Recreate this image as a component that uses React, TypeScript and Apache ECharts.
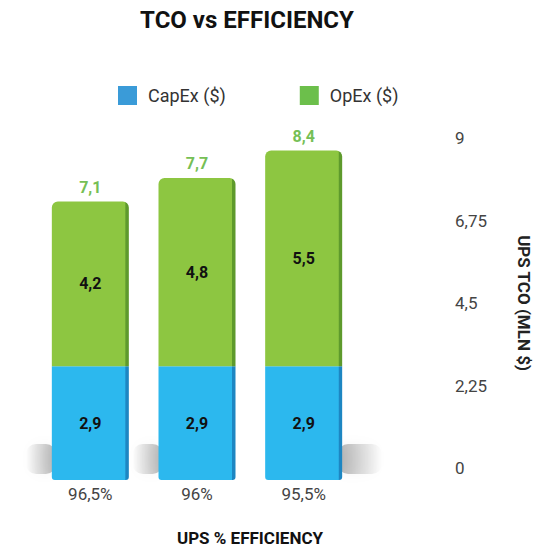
import React, { useEffect, useRef } from "react";
import * as echarts from "echarts";

const categories = ["96,5%", "96%", "95,5%"];
const capex = [2.9, 2.9, 2.9];
const opex = [4.2, 4.8, 5.5];
const totals = [7.1, 7.7, 8.4];
const tickValues = [0, 2.25, 4.5, 6.75, 9];

const fmt = (v: number) => String(v).replace(".", ",");

export default function App() {
  const ref = useRef<HTMLDivElement>(null);
  useEffect(() => {
    document.body.style.margin = "0";
    if (!ref.current) return;
    const chart = echarts.init(ref.current, null, { renderer: "svg" });
    const blueGrad = new echarts.graphic.LinearGradient(0, 0, 1, 0, [
      { offset: 0, color: "#2CB8EE" },
      { offset: 0.95, color: "#2CB8EE" },
      { offset: 0.96, color: "#1D86C2" },
      { offset: 1, color: "#1D86C2" },
    ]);
    const greenGrad = new echarts.graphic.LinearGradient(0, 0, 1, 0, [
      { offset: 0, color: "#8DC641" },
      { offset: 0.95, color: "#8DC641" },
      { offset: 0.96, color: "#5E9A2C" },
      { offset: 1, color: "#5E9A2C" },
    ]);
    chart.setOption({
      animation: false,
      backgroundColor: "#ffffff",
      title: {
        text: "TCO vs EFFICIENCY",
        left: 242,
        textAlign: "center",
        top: 3,
        textStyle: { fontFamily: "Roboto", fontWeight: "bold", fontSize: 24, color: "#111" },
      },
      legend: {
        left: 113,
        top: 81,
        itemWidth: 19,
        itemHeight: 19,
        itemGap: 74,
        icon: "rect",
        textStyle: { fontFamily: "Roboto", fontSize: 18, color: "#333", padding: [0, 0, 0, 6] },
        data: [
          { name: "CapEx ($)", itemStyle: { color: "#3A9BD8" } },
          { name: "OpEx ($)", itemStyle: { color: "#6CBF4B" } },
        ],
      },
      grid: [
        { left: 37, width: 320, top: 127, height: 353 },
        { left: 37, width: 410, top: 138, height: 330 },
      ],
      xAxis: [
        {
          type: "category",
          gridIndex: 0,
          data: categories,
          axisLine: { show: false },
          axisTick: { show: false },
          axisLabel: { margin: 5, fontFamily: "Roboto", fontSize: 17, color: "#444" },
        },
        { type: "value", gridIndex: 1, show: false, min: 0, max: 1 },
      ],
      yAxis: [
        { type: "value", gridIndex: 0, min: 0, max: 9, show: false },
        {
          type: "value",
          gridIndex: 1,
          position: "right",
          min: tickValues[0],
          max: tickValues[tickValues.length - 1],
          interval: tickValues[1] - tickValues[0],
          splitLine: { show: false },
          axisLine: { show: false },
          axisTick: { show: false },
          axisLabel: {
            margin: 8,
            fontFamily: "Roboto",
            fontSize: 17,
            color: "#444",
            formatter: (v: number) => fmt(v),
          },
          name: "UPS TCO (MLN $)",
          nameLocation: "middle",
          nameRotate: -90,
          nameGap: 68,
          nameTextStyle: { fontFamily: "Roboto", fontWeight: "bold", fontSize: 17, color: "#222" },
        },
      ],
      graphic: [
        {
          type: "text",
          x: 250,
          y: 538,
          style: {
            text: "UPS % EFFICIENCY",
            fontFamily: "Roboto",
            fontWeight: "bold",
            fontSize: 17,
            fill: "#111",
            textAlign: "center",
            textVerticalAlign: "middle",
          },
        },
      ],
      series: [
        {
          type: "custom",
          xAxisIndex: 0,
          yAxisIndex: 0,
          z: 0,
          silent: true,
          data: categories.map((_, i) => [i, 0]),
          renderItem: (params: any, api: any) => {
            const idx = api.value(0);
            const p = api.coord([idx, 0]);
            const band = api.size([1, 0])[0];
            const half = band * 0.36;
            const toRight = idx === categories.length - 1;
            const w = toRight ? 44 : 30;
            const x = toRight ? p[0] + half - 4 : p[0] - half - w + 4;
            return {
              type: "rect",
              shape: { x, y: p[1] - 36, width: w, height: 30, r: 10 },
              style: {
                fill: new echarts.graphic.LinearGradient(toRight ? 0 : 1, 0, toRight ? 1 : 0, 0, [
                  { offset: 0, color: "rgba(0,0,0,0.28)" },
                  { offset: 0.5, color: "rgba(0,0,0,0.14)" },
                  { offset: 1, color: "rgba(0,0,0,0)" },
                ]),
                shadowBlur: 12,
                shadowColor: "rgba(0,0,0,0.2)",
              },
            };
          },
        },
        {
          name: "CapEx ($)",
          type: "bar",
          stack: "tco",
          xAxisIndex: 0,
          yAxisIndex: 0,
          barWidth: 77,
          data: capex,
          itemStyle: { color: blueGrad, borderRadius: [0, 0, 3, 3] },
          label: {
            show: true,
            position: "inside",
            formatter: (p: any) => fmt(p.value),
            fontFamily: "Roboto",
            fontWeight: "bold",
            fontSize: 16,
            color: "#111",
          },
          z: 2,
        },
        {
          name: "OpEx ($)",
          type: "bar",
          stack: "tco",
          xAxisIndex: 0,
          yAxisIndex: 0,
          barWidth: 77,
          data: opex,
          itemStyle: { color: greenGrad, borderRadius: [6, 6, 0, 0] },
          label: {
            show: true,
            position: "inside",
            formatter: (p: any) => fmt(p.value),
            fontFamily: "Roboto",
            fontWeight: "bold",
            fontSize: 16,
            color: "#111",
          },
          z: 2,
        },
        {
          name: "Total",
          type: "bar",
          stack: "tco",
          xAxisIndex: 0,
          yAxisIndex: 0,
          barWidth: 77,
          data: totals.map(() => 0),
          itemStyle: { color: "transparent" },
          label: {
            show: true,
            position: "top",
            distance: 6,
            formatter: (p: any) => fmt(totals[p.dataIndex]),
            fontFamily: "Roboto",
            fontWeight: "bold",
            fontSize: 16,
            color: "#76BF55",
          },
          z: 2,
        },
      ],
    });
    return () => chart.dispose();
  }, []);
  return <div ref={ref} style={{ width: 543, height: 549 }} />;
}
